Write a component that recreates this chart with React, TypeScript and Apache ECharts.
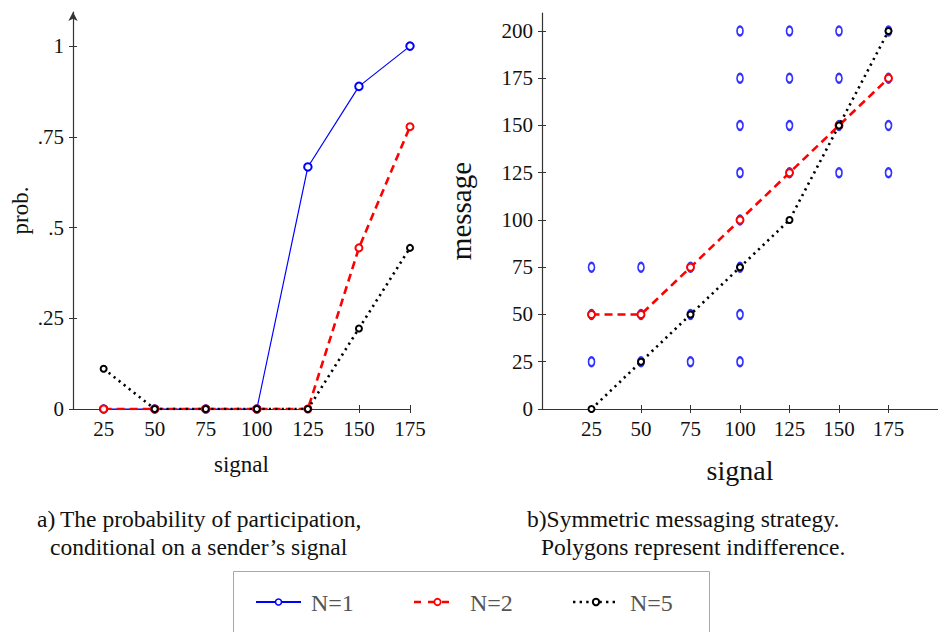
import React, { useEffect, useRef } from "react";
import * as echarts from "echarts";

// Signals sent (shared by both panels)
const signals = [25, 50, 75, 100, 125, 150, 175];

// Panel a: probability of participation by signal
const probN1 = [0, 0, 0, 0, 0.667, 0.889, 1];
const probN2 = [0, 0, 0, 0, 0, 0.444, 0.778];
const probN5 = [0.111, 0, 0, 0, 0, 0.222, 0.444];

// Panel b: messages chosen by signal
const messageN2 = [50, 50, 75, 100, 125, 150, 175];
const messageN5 = [0, 25, 50, 75, 100, 150, 200];

// Panel b: N=1 indifference points (signal, message)
const indifferenceSignal = [
  25, 25, 25,
  50, 50, 50,
  75, 75, 75,
  100, 100, 100, 100, 100, 100, 100, 100,
  125, 125, 125, 125,
  150, 150, 150, 150,
  175, 175, 175, 175,
];
const indifferenceMessage = [
  25, 50, 75,
  25, 50, 75,
  25, 50, 75,
  25, 50, 75, 100, 125, 150, 175, 200,
  125, 150, 175, 200,
  125, 150, 175, 200,
  125, 150, 175, 200,
];

const probTicks = [0, 0.25, 0.5, 0.75, 1];
const messageTicks = [0, 25, 50, 75, 100, 125, 150, 175, 200];

const seriesNames = ["N=1", "N=2", "N=5"];

const FONT = "Liberation Serif, DejaVu Serif, serif";
const BLUE = "#0000ff";
const RED = "#ff0000";
const BLACK = "#000000";
const AXIS = "#333333";

const zip = (xs: number[], ys: number[]) => xs.map((x, i) => [x, ys[i]]);

const probLabel = (v: number) => {
  if (v === 0) return "0";
  if (v === 1) return "1";
  return String(v).replace(/^0/, "");
};

export default function App() {
  const ref = useRef<HTMLDivElement>(null);

  useEffect(() => {
    document.body.style.margin = "0";
    const chart = echarts.init(ref.current!, null, { renderer: "svg" });

    const axisLine = (arrow: boolean) => ({
      show: true,
      onZero: false,
      lineStyle: { color: AXIS, width: 1.2 },
      symbol: arrow ? ["none", "arrow"] : ["none", "none"],
      symbolSize: [7, 9],
    });
    const tick = (values: number[], inside: boolean) => ({
      show: true,
      inside,
      length: 4,
      lineStyle: { color: AXIS, width: 1 },
      customValues: values,
    });
    const label = (values: number[], fmt?: (v: number) => string) => ({
      show: true,
      customValues: values,
      color: "#111",
      fontFamily: FONT,
      fontSize: 21,
      margin: 9,
      formatter: fmt ? (v: number) => fmt(v) : (v: number) => String(v),
    });
    const hidden = (values: number[]) => ({
      show: true,
      customValues: values,
      formatter: () => "",
    });
    // second axis on the same side, only to draw the inner half of each tick
    const innerX = (grid: number, min: number, max: number) => ({
      gridIndex: grid, type: "value", min, max, position: "bottom", offset: 0,
      axisLine: { show: false, onZero: false }, axisTick: tick(signals, true),
      axisLabel: hidden(signals), splitLine: { show: false },
    });
    const innerY = (grid: number, max: number, values: number[]) => ({
      gridIndex: grid, type: "value", min: 0, max, position: "left", offset: 0,
      axisLine: { show: false, onZero: false }, axisTick: tick(values, true),
      axisLabel: hidden(values), splitLine: { show: false },
    });

    const caption = (text: string, x: number, y: number) => ({
      type: "text", x, y,
      style: { text, font: `23.5px ${FONT}`, fill: "#111", verticalAlign: "middle", align: "left" },
    });
    const legendText = (text: string, x: number) => ({
      type: "text", x, y: 603,
      style: { text, font: `24px ${FONT}`, fill: "#555", verticalAlign: "middle", align: "left" },
    });

    const option: any = {
      animation: false,
      backgroundColor: "#ffffff",
      grid: [
        { left: 73, top: 12, width: 337, height: 397, containLabel: false },
        { left: 542, top: 13, width: 396, height: 396, containLabel: false },
      ],
      xAxis: [
        {
          gridIndex: 0, type: "value", min: 10, max: 175, position: "bottom",
          axisLine: axisLine(false), axisTick: tick(signals, false),
          axisLabel: label(signals), splitLine: { show: false },
          name: "signal", nameLocation: "middle", nameGap: 44,
          nameTextStyle: { fontFamily: FONT, fontSize: 23, color: "#111" },
        },
        innerX(0, 10, 175),
        {
          gridIndex: 1, type: "value", min: 0, max: 200, position: "bottom",
          axisLine: axisLine(false), axisTick: tick(signals, false),
          axisLabel: label(signals), splitLine: { show: false },
          name: "signal", nameLocation: "middle", nameGap: 47,
          nameTextStyle: { fontFamily: FONT, fontSize: 28, color: "#111" },
        },
        innerX(1, 0, 200),
      ],
      yAxis: [
        {
          gridIndex: 0, type: "value", min: 0, max: 1.094, position: "left",
          axisLine: axisLine(true), axisTick: tick(probTicks, false),
          axisLabel: label(probTicks, probLabel), splitLine: { show: false },
          name: "prob.", nameLocation: "middle", nameGap: 41, nameRotate: 90,
          nameTextStyle: { fontFamily: FONT, fontSize: 23, color: "#111" },
        },
        innerY(0, 1.094, probTicks),
        {
          gridIndex: 1, type: "value", min: 0, max: 209.5, position: "left",
          axisLine: axisLine(false), axisTick: tick(messageTicks, false),
          axisLabel: label(messageTicks), splitLine: { show: false },
          name: "message", nameLocation: "middle", nameGap: 67, nameRotate: 90,
          nameTextStyle: { fontFamily: FONT, fontSize: 29, color: "#111" },
        },
        innerY(1, 209.5, messageTicks),
      ],
      series: [
        // Panel a
        {
          name: seriesNames[0], type: "line", xAxisIndex: 0, yAxisIndex: 0,
          data: zip(signals, probN1),
          lineStyle: { color: BLUE, width: 1.2 },
          symbol: "emptyCircle", symbolSize: 7.5,
          itemStyle: { color: BLUE, borderColor: BLUE, borderWidth: 1 },
          z: 2,
        },
        {
          name: seriesNames[1], type: "line", xAxisIndex: 0, yAxisIndex: 0,
          data: zip(signals, probN2),
          lineStyle: { color: RED, width: 2.6, type: [8, 5] },
          symbol: "emptyCircle", symbolSize: 7,
          itemStyle: { color: RED, borderColor: RED, borderWidth: 1.3 },
          z: 3,
        },
        {
          name: seriesNames[2], type: "line", xAxisIndex: 0, yAxisIndex: 0,
          data: zip(signals, probN5),
          lineStyle: { color: BLACK, width: 2.6, type: [2.2, 4.2] },
          symbol: "emptyCircle", symbolSize: 6,
          itemStyle: { color: BLACK, borderColor: BLACK, borderWidth: 1.8 },
          z: 4,
        },
        // Panel b
        {
          name: seriesNames[0], type: "scatter", xAxisIndex: 2, yAxisIndex: 2,
          data: zip(indifferenceSignal, indifferenceMessage),
          symbol: "emptyCircle", symbolSize: [6, 9],
          itemStyle: { color: BLUE, borderColor: BLUE, borderWidth: 0.9 },
          z: 2,
        },
        {
          name: seriesNames[1], type: "line", xAxisIndex: 2, yAxisIndex: 2,
          data: zip(signals, messageN2),
          lineStyle: { color: RED, width: 2.6, type: [8, 5] },
          symbol: "emptyCircle", symbolSize: 7,
          itemStyle: { color: RED, borderColor: RED, borderWidth: 1.3 },
          z: 3,
        },
        {
          name: seriesNames[2], type: "line", xAxisIndex: 2, yAxisIndex: 2,
          data: zip(signals, messageN5),
          lineStyle: { color: BLACK, width: 2.6, type: [2.2, 4.2] },
          symbol: "emptyCircle", symbolSize: 6,
          itemStyle: { color: BLACK, borderColor: BLACK, borderWidth: 1.8 },
          z: 4,
        },
      ],
      graphic: [
        // captions
        caption("a)", 37, 519),
        caption("The probability of participation,", 60, 519),
        caption("conditional on a sender\u2019s signal", 50, 547),
        caption("b)Symmetric messaging strategy.", 527, 519),
        caption("Polygons represent indifference.", 541, 547),
        // legend frame
        {
          type: "rect", shape: { x: 233.5, y: 571.5, width: 476, height: 80 },
          style: { fill: "none", stroke: "#a8a8a8", lineWidth: 1 },
        },
        // legend keys
        { type: "line", shape: { x1: 256, y1: 602, x2: 301, y2: 602 }, style: { stroke: BLUE, lineWidth: 2 } },
        { type: "circle", shape: { cx: 278.5, cy: 602, r: 3 }, style: { fill: "#fff", stroke: BLUE, lineWidth: 1.5 } },
        legendText(seriesNames[0], 311),
        { type: "line", shape: { x1: 414, y1: 602, x2: 454, y2: 602 }, style: { stroke: RED, lineWidth: 2.6, lineDash: [7, 7] } },
        { type: "circle", shape: { cx: 437.5, cy: 602, r: 3.2 }, style: { fill: "#fff", stroke: RED, lineWidth: 1.8 } },
        legendText(seriesNames[1], 470),
        { type: "line", shape: { x1: 573, y1: 602, x2: 617, y2: 602 }, style: { stroke: BLACK, lineWidth: 2.6, lineDash: [2.4, 4.2] } },
        { type: "circle", shape: { cx: 596, cy: 602, r: 3.2 }, style: { fill: "#fff", stroke: BLACK, lineWidth: 2 } },
        legendText(seriesNames[2], 630),
      ],
    };

    chart.setOption(option);
    return () => chart.dispose();
  }, []);

  return (
    <div
      ref={ref}
      style={{ position: "fixed", left: 0, top: 0, width: 938, height: 632, background: "#fff" }}
    />
  );
}
